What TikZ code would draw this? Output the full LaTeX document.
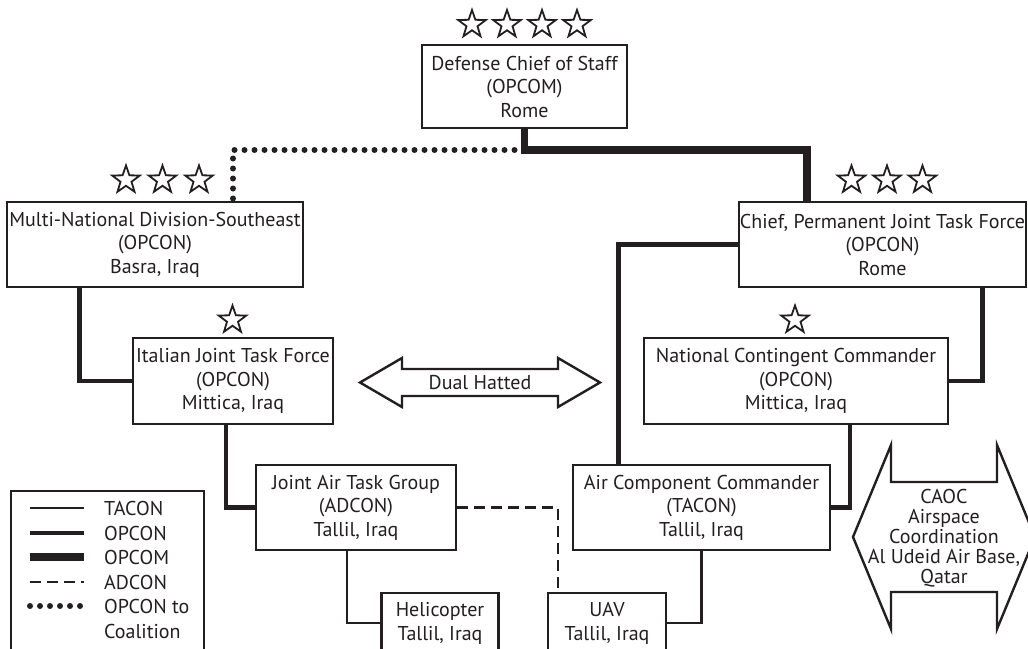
\documentclass[tikz,border=0pt]{standalone}
\usepackage{fontspec}
\setmainfont{PT Sans}
\usetikzlibrary{shapes.geometric}
\definecolor{ink}{RGB}{35,31,32}

\begin{document}
\begin{tikzpicture}[x=1pt,y=-1pt,
  every node/.style={text=ink},
  unit/.style={draw=ink,line width=2.4pt,fill=white,align=center,inner sep=0pt,font=\fontsize{20}{23.5}\selectfont},
  keytext/.style={anchor=west,inner sep=0pt,font=\fontsize{20}{23}\selectfont},
  rank/.style={star,star points=5,star point ratio=2.5,draw=ink,line width=1.8pt,inner sep=0pt,minimum size=29pt},
  tacon/.style={draw=ink,line width=2.4pt},
  opcon/.style={draw=ink,line width=4.8pt},
  opcom/.style={draw=ink,line width=7.5pt},
  adcon/.style={draw=ink,line width=2.4pt,dash pattern=on 11pt off 6pt},
  coalition/.style={draw=ink,line width=6pt,line cap=round,dash pattern=on 0pt off 10pt},
  hatted/.style={draw=ink,line width=2.4pt,line join=miter}]
\useasboundingbox (0,0) rectangle (1028,648);
\fill[white] (0,0) rectangle (1028,648);
\clip (0,0) rectangle (1028,648);

\node[unit,minimum width=205,minimum height=83] (dcs) at (524.5,86.5) {Defense Chief of Staff\\(OPCOM)\\Rome};
\node[unit,minimum width=296,minimum height=85] (mnd) at (155,244.5) {Multi-National Division-Southeast\\(OPCON)\\Basra, Iraq};
\node[unit,minimum width=287,minimum height=85] (pjtf) at (882.5,244.5) {Chief, Permanent Joint Task Force\\(OPCON)\\Rome};
\node[unit,minimum width=200,minimum height=86] (ijtf) at (233,381) {Italian Joint Task Force\\(OPCON)\\Mittica, Iraq};
\node[unit,minimum width=304,minimum height=86] (ncc) at (796,381) {National Contingent Commander\\(OPCON)\\Mittica, Iraq};
\node[unit,minimum width=200,minimum height=85] (jatg) at (356,507.5) {Joint Air Task Group\\(ADCON)\\Tallil, Iraq};
\node[unit,minimum width=257,minimum height=85] (acc) at (701.5,507.5) {Air Component Commander\\(TACON)\\Tallil, Iraq};
\node[unit,minimum width=117,minimum height=60,anchor=north] (heli) at (440,592) {Helicopter\\Tallil, Iraq};
\node[unit,minimum width=118,minimum height=60,anchor=north] (uav) at (607,592) {UAV\\Tallil, Iraq};

\foreach \i [count=\n] in {-1.5,-0.5,0.5,1.5}
  \node[rank] (dcsstar\n) at (524.5+35*\i,24.5) {};
\foreach \i [count=\n] in {-1,0,1}
  \node[rank] (mndstar\n) at (162.5+36.5*\i,180) {};
\foreach \i [count=\n] in {-1,0,1}
  \node[rank] (pjtfstar\n) at (887+35.5*\i,180) {};
\node[rank] (ijtfstar) at (232.5,320) {};
\node[rank] (nccstar) at (795,320) {};

\coordinate (split) at (524.5,150);
\draw[coalition] (split) -| ([xshift=78pt]mnd.north);
\draw[opcom] (dcs.south) -- (split) -| ([xshift=69pt]pjtf.north west);
\draw[opcon] ([xshift=74pt]mnd.south west) |- (ijtf.west);
\draw[opcon] ([xshift=-7pt]ijtf.south) |- (jatg.west);
\draw[opcon] ([xshift=100pt]pjtf.south) |- (ncc.east);
\draw[opcon] ([xshift=54pt]ncc.south) |- (acc.east);
\draw[opcon] ([xshift=47pt]acc.north west) |- (pjtf.west);
\draw[tacon] ([xshift=-9pt]jatg.south) |- (heli.west);
\draw[tacon] (acc.south) |- (uav.east);
\draw[adcon] (jatg.east) -| ([xshift=11pt]uav.north west);

\draw[hatted] (360,382.5) -- (402,358) -- (402,369) -- (558,369) -- (558,358) -- (600,382.5)
  -- (558,407) -- (558,396) -- (402,396) -- (402,407) -- cycle;
\node[font=\fontsize{20}{23}\selectfont] (dual) at (480,382.5) {Dual Hatted};

\draw[hatted] (853,537) -- (891,445) -- (891,482) -- (997,482) -- (997,445) -- (1035,537)
  -- (997,629) -- (997,592) -- (891,592) -- (891,629) -- cycle;
\node[align=center,inner sep=0pt,font=\fontsize{20}{20}\selectfont] (caoc) at (944,538) {CAOC\\Airspace\\Coordination\\Al Udeid Air Base,\\Qatar};

\node[draw=ink,line width=2pt,minimum width=193,minimum height=180,anchor=north west,inner sep=0pt] (legend) at (10,490) {};
\foreach \s/\t/\y in {tacon/TACON/508,opcon/OPCON/533,opcom/OPCOM/557,adcon/ADCON/582,coalition/OPCON to/606}
{
  \draw[\s] (30,\y) -- (84,\y);
  \node[keytext] (key\s) at (104,\y) {\t};
}
\node[keytext] (keycoalition2) at (104,631) {Coalition};
\end{tikzpicture}
\end{document}
